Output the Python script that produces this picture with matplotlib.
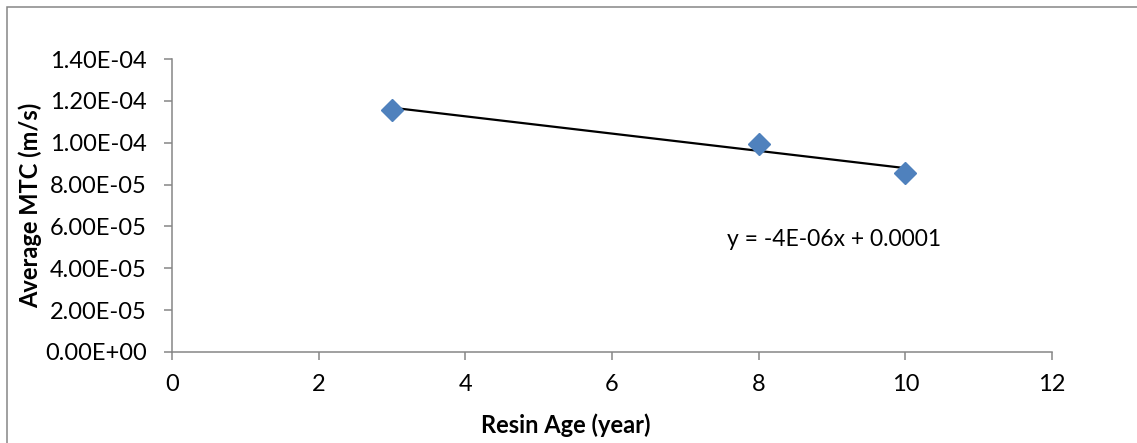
import numpy as np
import matplotlib
matplotlib.use("Agg")
import matplotlib.pyplot as plt
from matplotlib.patches import Rectangle

plt.rcParams['font.family'] = ['Lato', 'DejaVu Sans']

resin_age = [3, 8, 10]
avg_mtc = [1.158e-4, 0.994e-4, 0.855e-4]
x_ticks = [0, 2, 4, 6, 8, 10, 12]
y_ticks = [0, 2e-5, 4e-5, 6e-5, 8e-5, 1e-4, 1.2e-4, 1.4e-4]
y_tick_labels = ["0.00E+00", "2.00E-05", "4.00E-05", "6.00E-05",
                 "8.00E-05", "1.00E-04", "1.20E-04", "1.40E-04"]
equation = "y = -4E-06x + 0.0001"

W, H = 1137, 443
fig = plt.figure(figsize=(W / 100, H / 100), dpi=100)
ax = fig.add_axes([172 / W, 1 - 352 / H, (1052 - 172) / W, (352 - 59) / H])

# outer chart border
fig.patches.append(Rectangle((7 / W, -0.1), 1.2, 1 - 7 / H + 0.1,
                             transform=fig.transFigure, fill=False,
                             edgecolor='#868686', linewidth=1.1))

# trendline
coef = np.polyfit(resin_age, avg_mtc, 1)
xt = np.array([min(resin_age), max(resin_age)])
ax.plot(xt, np.polyval(coef, xt), color='black', linewidth=1.6, zorder=2)

ax.plot(resin_age, avg_mtc, linestyle='none', marker='D', markersize=11.5,
        color='#4F81BD', markeredgecolor='#4F81BD', zorder=3)

ax.set_xlim(0, 12)
ax.set_ylim(0, 1.4e-4)
ax.set_xticks(x_ticks)
ax.set_xticklabels([str(t) for t in x_ticks])
ax.set_yticks(y_ticks)
ax.set_yticklabels(y_tick_labels)

for s in ['top', 'right']:
    ax.spines[s].set_visible(False)
for s in ['left', 'bottom']:
    ax.spines[s].set_color('#868686')
    ax.spines[s].set_linewidth(1.1)

ax.tick_params(axis='both', direction='out', length=6, width=1.1,
               color='#868686', labelsize=17, labelcolor='black')
ax.tick_params(axis='x', pad=10)
ax.tick_params(axis='y', pad=12)

ax.set_xlabel("Resin Age (year)", fontsize=17, fontweight='bold', va='center')
ax.xaxis.set_label_coords(0.447, -0.249)
ax.set_ylabel("Average MTC (m/s)", fontsize=17, fontweight='bold', va='center')
ax.yaxis.set_label_coords(-0.161, 0.5)

ax.text(7.57, 5.37e-5, equation, fontsize=16.5, ha='left', va='center')

fig.savefig("out.png", dpi=100)
